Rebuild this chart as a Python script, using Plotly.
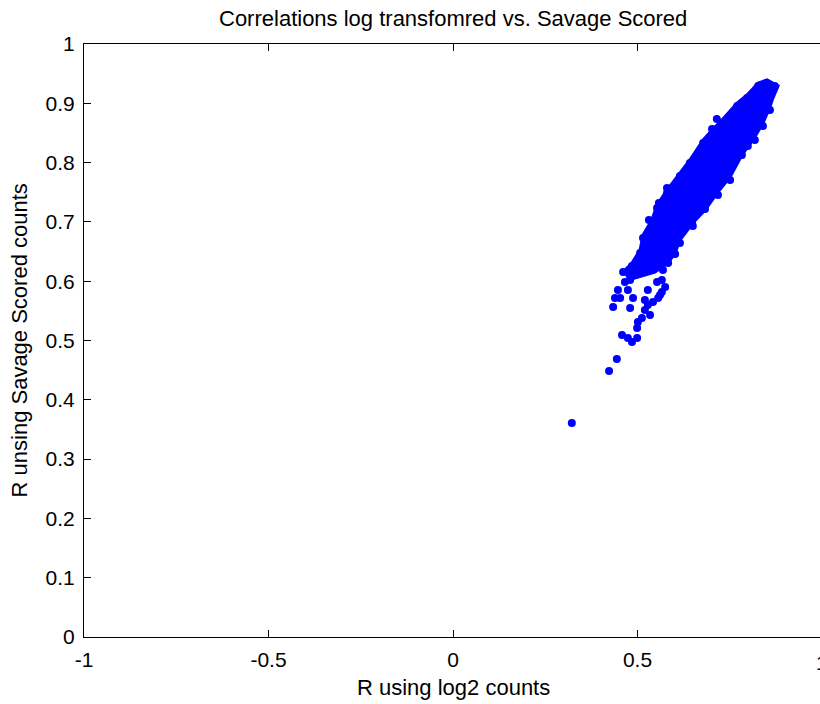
import plotly.graph_objects as go

# Outline of the dense cloud (x = R log2, y = R Savage)
core_x = [0.461, 0.485, 0.507, 0.515, 0.539, 0.553, 0.580, 0.615, 0.642, 0.678, 0.702, 0.729,
          0.770, 0.797, 0.827, 0.851, 0.881, 0.865, 0.859, 0.840, 0.818, 0.783, 0.751, 0.718,
          0.683, 0.650, 0.615, 0.602, 0.583, 0.547, 0.507, 0.474]
core_y = [0.6155, 0.6307, 0.6526, 0.6779, 0.7032, 0.7285, 0.7538, 0.7825, 0.8044, 0.8381, 0.855, 0.8718,
          0.9005, 0.914, 0.9342, 0.9393, 0.9292, 0.9056, 0.8938, 0.8668, 0.8432, 0.8128, 0.7757, 0.7504,
          0.7201, 0.6981, 0.6695, 0.6476, 0.6307, 0.6155, 0.6088, 0.602]

# Individual points (edge bumps and the sparse tail)
pts_x = [0.715, 0.702, 0.745, 0.783, 0.799, 0.683, 0.648, 0.602, 0.558, 0.580, 0.531,
         0.466, 0.480, 0.447, 0.439, 0.434, 0.453, 0.488, 0.474, 0.480, 0.528, 0.520, 0.542,
         0.553, 0.566, 0.575, 0.566, 0.561, 0.556, 0.528, 0.569, 0.520, 0.534, 0.512, 0.501,
         0.499, 0.458, 0.474, 0.485, 0.499, 0.444, 0.423, 0.322,
         0.872, 0.851, 0.827, 0.797, 0.770, 0.729, 0.678, 0.642, 0.615, 0.580, 0.553, 0.539,
         0.515, 0.507, 0.485, 0.461, 0.859, 0.840, 0.818, 0.751, 0.718, 0.650, 0.615, 0.583]
pts_y = [0.8735, 0.8567, 0.7757, 0.8128, 0.828, 0.7218, 0.6981, 0.6459, 0.7319, 0.7572, 0.7032,
         0.5987, 0.602, 0.5852, 0.5717, 0.5565, 0.5717, 0.5717, 0.5852, 0.5548, 0.5852, 0.5683, 0.5649,
         0.5987, 0.602, 0.5902, 0.5818, 0.5767, 0.5717, 0.5599, 0.6189, 0.5514, 0.543, 0.5379, 0.5312,
         0.5211, 0.5093, 0.5042, 0.4975, 0.5042, 0.4688, 0.4486, 0.361,
         0.9292, 0.9340, 0.9290, 0.9090, 0.8955, 0.8668, 0.8331, 0.7994, 0.7775, 0.7488, 0.7235, 0.6982,
         0.6729, 0.6476, 0.6257, 0.6155, 0.8888, 0.8618, 0.8382, 0.7707, 0.7454, 0.6931, 0.6645, 0.6307]

x_ticks = [-1, -0.5, 0, 0.5]
x_tick_text = ["-1", "-0.5", "0", "0.5"]
y_ticks = [0, 0.1, 0.2, 0.3, 0.4, 0.5, 0.6, 0.7, 0.8, 0.9, 1]
y_tick_text = ["0", "0.1", "0.2", "0.3", "0.4", "0.5", "0.6", "0.7", "0.8", "0.9", "1"]

BLUE = "#0000ff"
FONT = "Liberation Sans"

fig = go.Figure()
fig.add_trace(go.Scatter(x=core_x, y=core_y, mode="lines", fill="toself",
                         fillcolor=BLUE, line=dict(color=BLUE, width=3),
                         hoverinfo="skip", showlegend=False))
fig.add_trace(go.Scatter(x=pts_x, y=pts_y, mode="markers",
                         marker=dict(color=BLUE, size=8, line=dict(width=0)),
                         showlegend=False))

fig.update_layout(
    width=820, height=704,
    margin=dict(l=84, r=0, t=44, b=67),
    paper_bgcolor="white", plot_bgcolor="white",
    font=dict(family=FONT, color="black"),
    showlegend=False,
    xaxis=dict(range=[-1, 0.9946], tickvals=x_ticks, ticktext=x_tick_text,
               ticks="inside", ticklen=7, tickcolor="black", tickwidth=1,
               showline=True, linecolor="black", linewidth=1, mirror="ticks",
               showgrid=False, zeroline=False, tickfont=dict(size=21, family=FONT),
               ticklabelstandoff=4),
    yaxis=dict(range=[0, 1], tickvals=y_ticks, ticktext=y_tick_text,
               ticks="inside", ticklen=7, tickcolor="black", tickwidth=1,
               showline=True, linecolor="black", linewidth=1, mirror=False,
               showgrid=False, zeroline=False, tickfont=dict(size=21, family=FONT),
               ticklabelstandoff=4),
    annotations=[
        dict(text="Correlations log transfomred vs. Savage Scored", xref="paper", yref="paper",
             x=0.5014, y=1.0438, xanchor="center", yanchor="middle", showarrow=False,
             font=dict(size=22, family=FONT)),
        dict(text="R using log2 counts", xref="paper", yref="paper",
             x=0.5014, y=-0.086, xanchor="center", yanchor="middle", showarrow=False,
             font=dict(size=22, family=FONT)),
        dict(text="R unsing Savage Scored counts", xref="paper", yref="paper",
             x=-0.087, y=0.5, xanchor="center", yanchor="middle", textangle=-90,
             showarrow=False, font=dict(size=22, family=FONT)),
        dict(text="1", xref="paper", yref="paper", x=1.0027, y=0, yshift=-12,
             xanchor="center", yanchor="top", showarrow=False,
             font=dict(size=21, family=FONT)),
    ],
)

fig.write_html("out.html")
